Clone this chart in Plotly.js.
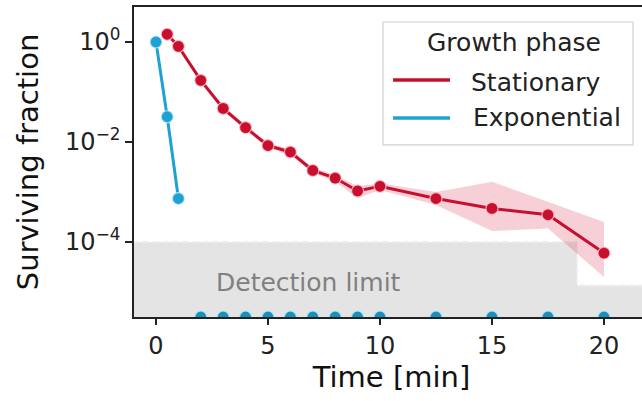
<!DOCTYPE html>
<html>
<head>
<meta charset="utf-8">
<script src="https://cdn.plot.ly/plotly-3.0.1.min.js"></script>
<style>
html, body { margin: 0; padding: 0; overflow: hidden; background: #fff; }
#chart { width: 650px; height: 401px; }
</style>
</head>
<body>
<div id="chart"></div>
<script>
// ---- Data ----
const timeStat  = [0.5, 1, 2, 3, 4, 5, 6, 7, 8, 9, 10, 12.5, 15, 17.5, 20];
const survStat  = [1.43, 0.82, 0.171, 0.047, 0.0194, 0.0085, 0.0063, 0.0027, 0.0019, 0.00105, 0.0013, 0.00074, 0.00047, 0.00035, 0.00006];
const statUpper = [1.6, 0.92, 0.19, 0.053, 0.022, 0.0097, 0.0072, 0.0031, 0.0022, 0.0013, 0.0015, 0.001, 0.0016, 0.00063, 0.00025];
const statLower = [1.28, 0.73, 0.153, 0.042, 0.0172, 0.0075, 0.0055, 0.0024, 0.0016, 0.00075, 0.0011, 0.00055, 0.000166, 0.000186, 0.00002];

const timeExp  = [0, 0.5, 1];
const survExp  = [1, 0.032, 0.00074];
const expUpper = [1.05, 0.037, 0.00085];
const expLower = [0.95, 0.027, 0.00045];

// exponential-phase samples with no survivors (drawn on the lower axis edge)
const timeExpZero = [2, 3, 4, 5, 6, 7, 8, 9, 10, 12.5, 15, 17.5, 20];
const survExpZero = [3.16e-6, 3.16e-6, 3.16e-6, 3.16e-6, 3.16e-6, 3.16e-6, 3.16e-6, 3.16e-6, 3.16e-6, 3.16e-6, 3.16e-6, 3.16e-6, 3.16e-6];

// detection limit (step)
const detLimitX = [-1.5, 18.8, 18.8, 23];
const detLimitY = [1e-4, 1e-4, 1.35e-5, 1.35e-5];
const detFloor  = 1e-7;

const xTickVals = [0, 5, 10, 15, 20];
const yTickVals = [1, 0.01, 0.0001];
const yTickText = ['10<sup>0</sup>', '10<sup>\u22122</sup>', '10<sup>\u22124</sup>'];

const seriesNames = ['Stationary', 'Exponential'];
const legendTitle = 'Growth phase';
const xTitle = 'Time [min]';
const yTitle = 'Surviving fraction';
const detText = 'Detection limit';

// ---- Styles ----
const RED = '#c8102e';
const BLUE = '#1fa2d3';
const FONT = 'DejaVu Sans, Verdana, sans-serif';

const traces = [];

// detection-limit shaded area
traces.push({
  x: detLimitX.concat([detLimitX[detLimitX.length - 1], detLimitX[0]]),
  y: detLimitY.concat([detFloor, detFloor]),
  mode: 'lines', fill: 'toself', fillcolor: '#e4e4e4',
  line: { width: 0, color: '#e4e4e4' },
  hoverinfo: 'skip', showlegend: false
});
// its dashed top edge
traces.push({
  x: detLimitX, y: detLimitY, mode: 'lines',
  line: { color: '#eeeeee', width: 2, dash: '6px,4px' },
  hoverinfo: 'skip', showlegend: false
});

// stationary CI band
traces.push({
  x: timeStat.concat(timeStat.slice().reverse()),
  y: statUpper.concat(statLower.slice().reverse()),
  mode: 'lines', fill: 'toself', fillcolor: 'rgba(214,40,70,0.22)',
  line: { width: 0 }, hoverinfo: 'skip', showlegend: false
});
// exponential CI band
traces.push({
  x: timeExp.concat(timeExp.slice().reverse()),
  y: expUpper.concat(expLower.slice().reverse()),
  mode: 'lines', fill: 'toself', fillcolor: 'rgba(31,162,211,0.2)',
  line: { width: 0 }, hoverinfo: 'skip', showlegend: false
});

// stationary line + markers
traces.push({
  x: timeStat, y: survStat, mode: 'lines+markers', name: seriesNames[0],
  line: { color: RED, width: 3 },
  marker: { color: RED, size: 12, line: { color: 'rgba(255,200,210,0.8)', width: 1.2 } },
  showlegend: false
});
// exponential line + markers
traces.push({
  x: timeExp, y: survExp, mode: 'lines+markers', name: seriesNames[1],
  line: { color: BLUE, width: 3 },
  marker: { color: BLUE, size: 12, line: { color: 'rgba(200,240,255,0.8)', width: 1.2 } },
  showlegend: false
});
// exponential zero points on the lower edge
traces.push({
  x: timeExpZero, y: survExpZero, mode: 'markers', name: seriesNames[1],
  marker: { color: '#1b8fb6', size: 12, line: { color: 'rgba(170,235,255,0.9)', width: 1.2 } },
  cliponaxis: true, showlegend: false
});

// ---- Legend (drawn like matplotlib's: title centred, long line samples) ----
const legendShapes = [
  { type: 'rect', xref: 'paper', yref: 'paper', x0: 0.4835, x1: 0.969, y0: 0.555, y1: 0.9516,
    line: { color: '#d0d0d0', width: 1.2 }, fillcolor: '#ffffff', layer: 'above' },
  { type: 'line', xref: 'paper', yref: 'paper', x0: 0.503, x1: 0.6136, y0: 0.7645, y1: 0.7645,
    line: { color: RED, width: 3.5 }, layer: 'above' },
  { type: 'line', xref: 'paper', yref: 'paper', x0: 0.503, x1: 0.6136, y0: 0.642, y1: 0.642,
    line: { color: BLUE, width: 3.5 }, layer: 'above' }
];
const legendAnnotations = [
  { xref: 'paper', yref: 'paper', x: 0.737, y: 0.887, xanchor: 'center', yanchor: 'middle',
    text: legendTitle, showarrow: false, font: { size: 25, family: FONT, color: '#222' } },
  { xref: 'paper', yref: 'paper', x: 0.650, y: 0.758, xanchor: 'left', yanchor: 'middle',
    text: seriesNames[0], showarrow: false, font: { size: 25, family: FONT, color: '#222' } },
  { xref: 'paper', yref: 'paper', x: 0.654, y: 0.642, xanchor: 'left', yanchor: 'middle',
    text: seriesNames[1], showarrow: false, font: { size: 25, family: FONT, color: '#222' } }
];

const layout = {
  width: 650, height: 401,
  margin: { l: 134, r: 1, t: 7, b: 84 },
  paper_bgcolor: '#ffffff', plot_bgcolor: '#ffffff',
  font: { family: FONT, color: '#222222', size: 24 },
  showlegend: false,
  xaxis: {
    range: [-0.982, 22.01],
    tickvals: xTickVals, ticktext: xTickVals.map(String),
    ticks: 'outside', ticklen: 6, tickwidth: 1.5, tickcolor: '#222',
    showline: true, linecolor: '#222', linewidth: 1.8, mirror: true,
    showgrid: false, zeroline: false,
    tickfont: { size: 24, family: FONT, color: '#222' },
    title: { text: xTitle, font: { size: 29, family: FONT, color: '#111' }, standoff: 8 }
  },
  yaxis: {
    type: 'log', range: [-5.5, 0.7],
    tickvals: yTickVals, ticktext: yTickText,
    ticks: 'outside', ticklen: 7, tickwidth: 1.5, tickcolor: '#222',
    showline: true, linecolor: '#222', linewidth: 1.8, mirror: true,
    showgrid: false, zeroline: false,
    tickfont: { size: 24, family: FONT, color: '#222' },
    title: { text: yTitle, font: { size: 29, family: FONT, color: '#111' }, standoff: 18 }
  },
  shapes: legendShapes,
  annotations: [{
    x: 6.83, y: Math.log10(1.58e-5), xref: 'x', yref: 'y',
    text: detText, showarrow: false,
    font: { size: 25, family: FONT, color: '#808080' }
  }].concat(legendAnnotations)
};

Plotly.newPlot('chart', traces, layout, { displayModeBar: false, staticPlot: true });
</script>
</body>
</html>
